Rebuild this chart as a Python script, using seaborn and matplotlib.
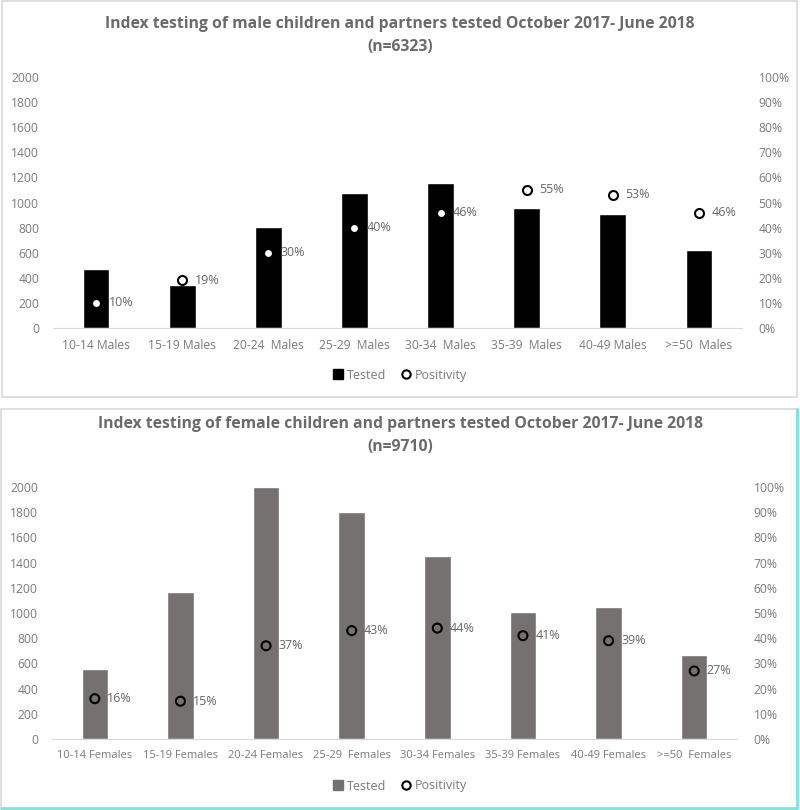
import numpy as np
import pandas as pd
import seaborn as sns
import matplotlib.pyplot as plt
from matplotlib.ticker import PercentFormatter
from matplotlib.lines import Line2D

# Data
male_groups = ["10-14 Males", "15-19 Males", "20-24  Males", "25-29  Males",
               "30-34  Males", "35-39  Males", "40-49 Males", ">=50  Males"]
male_tested = [470, 345, 805, 1075, 1155, 955, 905, 625]
male_pos = [10, 19, 30, 40, 46, 55, 53, 46]

female_groups = ["10-14 Females", "15-19 Females", "20-24 Females", "25-29  Females",
                 "30-34 Females", "35-39 Females", "40-49 Females", ">=50  Females"]
female_tested = [555, 1170, 2000, 1800, 1450, 1010, 1050, 670]
female_pos = [16, 15, 37, 43, 44, 41, 39, 27]

sns.set_style("white")
plt.rcParams['font.family'] = ['Open Sans', 'DejaVu Sans']
txt = "#7a7a7a"
title_c = "#6b6b6b"

W, H = 800, 810
fig = plt.figure(figsize=(W / 100, H / 100), dpi=100)


def px(x0, y0, x1, y1):
    # pixel box (top-left origin) -> figure fraction rect
    return [x0 / W, 1 - y1 / H, (x1 - x0) / W, (y1 - y0) / H]


def panel(box, groups, tested, pos, color, fill, title, n_txt, leg_y, title_y, xsize):
    ax = fig.add_axes(px(*box))
    df = pd.DataFrame({"group": groups, "tested": tested, "pos": np.array(pos) / 100})
    sns.barplot(data=df, x="group", y="tested", color=color, width=0.31,
                saturation=1, ax=ax)
    ax.set_ylim(0, 2000)
    ax.set_yticks(range(0, 2001, 200))
    ax.set_xlim(-0.5, len(groups) - 0.5)
    ax.set_xlabel("")
    ax.set_ylabel("")
    for s in ["top", "right", "left"]:
        ax.spines[s].set_visible(False)
    ax.spines["bottom"].set_color("#d9d9d9")
    ax.tick_params(axis="both", length=0, colors=txt, labelsize=8.7)
    ax.tick_params(axis="y", pad=10)
    ax.tick_params(axis="x", pad=8, labelsize=xsize)

    ax2 = ax.twinx()
    sns.scatterplot(x=np.arange(len(groups)), y=df["pos"], ax=ax2, marker="o",
                    s=42, facecolor=fill, edgecolor="black", linewidth=1.5, zorder=5)
    ax2.set_ylim(0, 1)
    ax2.set_yticks(np.arange(0, 1.01, 0.1))
    ax2.yaxis.set_major_formatter(PercentFormatter(1.0, decimals=0))
    ax2.set_ylabel("")
    for s in ["top", "right", "left", "bottom"]:
        ax2.spines[s].set_visible(False)
    ax2.tick_params(axis="y", length=0, colors=txt, labelsize=8.7, pad=12)
    for i, v in enumerate(pos):
        ax2.annotate(f"{v}%", (i, v / 100), xytext=(9, 0), textcoords="offset points",
                     va="center", ha="left", fontsize=9, color="#666666")

    fig.text(0.5, 1 - title_y / H, title, ha="center", va="center",
             fontsize=11.3, fontweight="bold", color=title_c)
    fig.text(0.5, 1 - (title_y + 23) / H, n_txt, ha="center", va="center",
             fontsize=11.3, fontweight="bold", color=title_c)

    handles = [Line2D([], [], marker="s", ls="", color=color, markersize=7),
               Line2D([], [], marker="o", ls="", markerfacecolor="white",
                      markeredgecolor="black", markeredgewidth=1.5, markersize=6)]
    fig.legend(handles, ["Tested", "Positivity"], loc="center",
               bbox_to_anchor=(0.5, 1 - leg_y / H), ncol=2, frameon=False,
               handlelength=0.8, handletextpad=0.3, columnspacing=1.2,
               prop={"size": 9}, labelcolor=txt)


panel((53, 77, 742, 328), male_groups, male_tested, male_pos, "black", "white",
      "Index testing of male children and partners tested October 2017- June 2018",
      "(n=6323)", 375, 24, 8.7)
panel((52, 487, 737, 739), female_groups, female_tested, female_pos, "#767171", "none",
      "Index testing of female children and partners tested October 2017- June 2018",
      "(n=9710)", 786, 424, 8.0)


# panel borders
def line(x0, y0, x1, y1, c, lw=1.2):
    fig.add_artist(Line2D([x0 / W, x1 / W], [1 - y0 / H, 1 - y1 / H], color=c, lw=lw,
                          transform=fig.transFigure))


g = "#d9d9d9"
line(2, 1, 797, 1, g)
line(2, 1, 2, 397, g)
line(797, 1, 797, 397, g)
line(2, 397, 797, 397, g)
cy = "#7fe3dc"
line(1, 409, 797, 409, g)
line(1, 409, 1, 808, g)
line(797, 409, 797, 808, cy, 2)
line(1, 808, 797, 808, cy, 2)

fig.savefig("out.png", dpi=100)
